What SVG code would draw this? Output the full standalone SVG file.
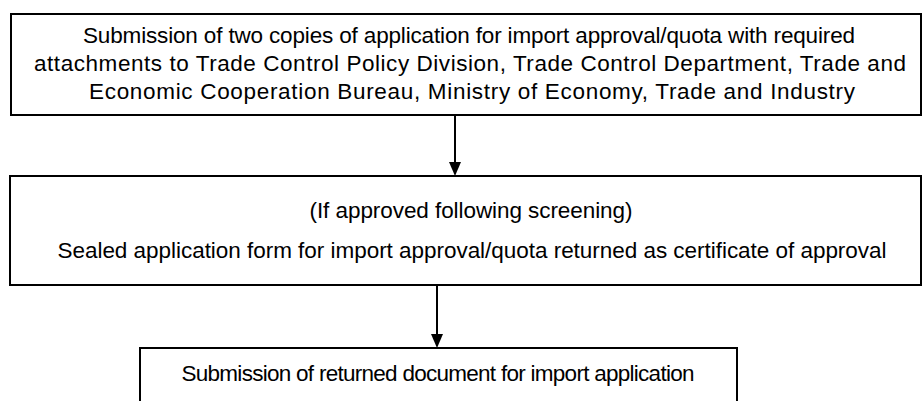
<svg xmlns="http://www.w3.org/2000/svg" width="923" height="401" viewBox="0 0 923 401">
<defs>
<style>
.box{fill:#fff;stroke:#000;stroke-width:2}
.t{font-family:"Liberation Sans",Arial,sans-serif;font-size:22.5px;fill:#000;text-anchor:middle}
.c{stroke:#000;stroke-width:2;fill:none}
.ah{fill:#000}
</style>
</defs>
<rect width="923" height="401" fill="#fff"/>
<g id="n1">
<rect class="box" x="11" y="14" width="910" height="101"/>
<text class="t" x="469" y="43" textLength="772">Submission of two copies of application for import approval/quota with required</text>
<text class="t" x="470" y="71" textLength="872">attachments to Trade Control Policy Division, Trade Control Department, Trade and</text>
<text class="t" x="472" y="99" textLength="766">Economic Cooperation Bureau, Ministry of Economy, Trade and Industry</text>
</g>
<g id="n2">
<rect class="box" x="10" y="176" width="911" height="109"/>
<text class="t" x="471" y="218" textLength="323">(If approved following screening)</text>
<text class="t" x="472" y="258" textLength="829">Sealed application form for import approval/quota returned as certificate of approval</text>
</g>
<g id="n3">
<rect class="box" x="140" y="348" width="597" height="70"/>
<text class="t" x="438" y="381" textLength="513">Submission of returned document for import application</text>
</g>
<g id="connectors">
<line class="c" x1="455" y1="115" x2="455" y2="162"/>
<path class="ah" d="M449,162 L461,162 L455,176 Z"/>
<line class="c" x1="437" y1="285" x2="437" y2="334"/>
<path class="ah" d="M431,334 L443,334 L437,348 Z"/>
</g>
</svg>
